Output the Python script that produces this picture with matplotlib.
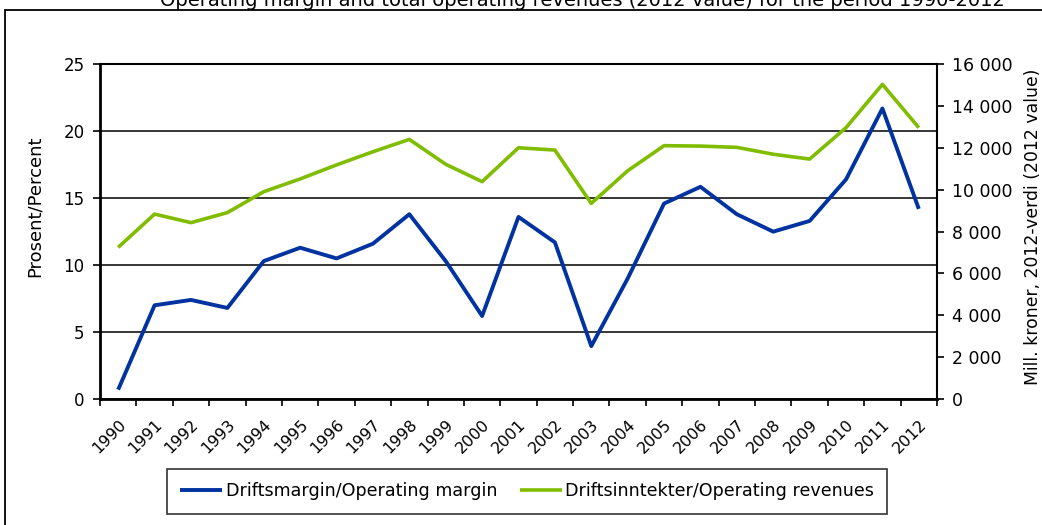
import matplotlib.pyplot as plt
from matplotlib.patches import Rectangle
from matplotlib.ticker import FuncFormatter
import numpy as np

years = [str(y) for y in range(1990, 2013)]
margin = [0.7, 7.0, 7.4, 6.8, 10.3, 11.3, 10.5, 11.6, 13.8, 10.3, 6.2, 13.6,
          11.7, 3.95, 9.0, 14.6, 15.85, 13.8, 12.5, 13.3, 16.4, 21.7, 14.2]
revenues = [7250, 8840, 8430, 8910, 9910, 10520, 11190, 11820, 12410, 11220,
            10390, 12010, 11900, 9350, 10910, 12110, 12090, 12030, 11700,
            11470, 12970, 15040, 12970]

blue = "#0033a0"
green = "#80bc00"

plt.rcParams["font.family"] = "DejaVu Sans"

fig = plt.figure(figsize=(10.42, 5.25), dpi=100)
fig.patches.append(Rectangle((5 / 1042, -0.1), 1.2, 1 - 10 / 525 + 0.1,
                             transform=fig.transFigure, fill=False,
                             edgecolor="black", linewidth=1.3))
fig.text(0.559, 1 - 6 / 525, "Operating margin and total operating revenues (2012 value) for the period 1990-2012",
         ha="center", va="baseline", fontsize=14)

ax = fig.add_axes([100 / 1042, 1 - 399 / 525, 837 / 1042, (399 - 64.3) / 525])
ax2 = ax.twinx()

x = np.arange(len(years))
l1, = ax.plot(x, margin, color=blue, linewidth=2.8, solid_capstyle="butt",
              label="Driftsmargin/Operating margin", zorder=3)
l2, = ax2.plot(x, revenues, color=green, linewidth=2.6, solid_capstyle="butt",
               label="Driftsinntekter/Operating revenues", zorder=3)

ax.set_xlim(-0.5, len(years) - 0.5)
ax.set_ylim(0, 25)
ax.set_yticks(range(0, 26, 5))
ax2.set_ylim(0, 16000)
ax2.set_yticks(range(0, 16001, 2000))
ax2.yaxis.set_major_formatter(FuncFormatter(lambda v, p: f"{int(v):,}".replace(",", " ")))

ax.set_xticks(x)
ax.set_xticklabels(years, rotation=45, ha="right", va="top", rotation_mode="anchor")
ax.set_xticks(np.arange(-0.5, len(years)), minor=True)
ax.tick_params(axis="x", which="major", length=0, labelsize=11.5, pad=13)
ax.tick_params(axis="x", which="minor", length=5, width=1.2, direction="out")
ax.tick_params(axis="y", length=5, width=1.2, labelsize=12, pad=6)
ax2.tick_params(axis="y", length=5, width=1.2, labelsize=12.5, pad=6)

ax.yaxis.grid(True, color="black", linewidth=1.1)
ax.set_axisbelow(True)

for s in ["left", "bottom"]:
    ax.spines[s].set_linewidth(2)
ax.spines["top"].set_linewidth(1.5)
ax2.spines["right"].set_linewidth(1.5)
ax2.spines["left"].set_visible(False)
ax2.spines["bottom"].set_visible(False)
ax2.spines["top"].set_visible(False)
ax.spines["right"].set_visible(False)

ax.set_ylabel("Prosent/Percent", fontsize=13)
ax.yaxis.set_label_coords(-0.067, 0.577)
ax2.set_ylabel("Mill. kroner, 2012-verdi (2012 value)", fontsize=12.4)
ax2.yaxis.set_label_coords(1.104, 0.514)

leg = fig.legend(handles=[l1, l2], loc="center", bbox_to_anchor=(0.506, 0.064),
                 ncol=2, fontsize=12.6, frameon=True, fancybox=False,
                 edgecolor="black", handlelength=2.4, columnspacing=1.3,
                 handletextpad=0.2, borderpad=0.75)
leg.get_frame().set_linewidth(1.2)

fig.savefig("out.png", dpi=100)
